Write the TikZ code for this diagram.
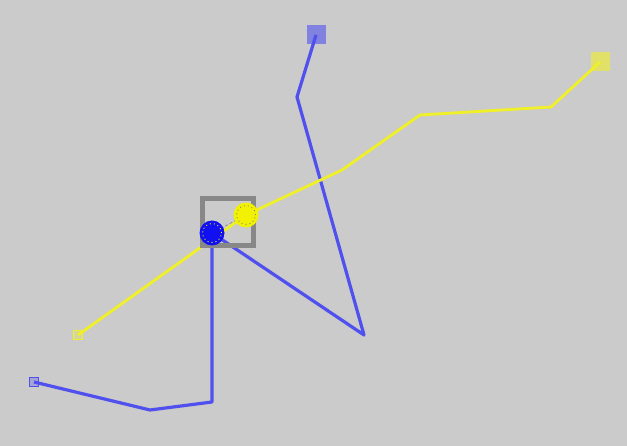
\documentclass[tikz,border=0pt]{standalone}
\usepackage{tikz}
\usetikzlibrary{positioning}
\definecolor{bggray}{HTML}{CBCBCB}
\definecolor{trackblue}{HTML}{5050EE}
\definecolor{trackyellow}{HTML}{F0F028}
\definecolor{boxgray}{HTML}{888888}
\definecolor{curblue}{HTML}{1010F0}
\definecolor{curyellow}{HTML}{F2F200}

\begin{document}
\begin{tikzpicture}[x=1pt, y=-1pt,
  bpath/.style={draw=trackblue, line width=3.2pt, line join=round},
  ypath/.style={draw=trackyellow, line width=2.8pt, line join=round},
  bigsq/.style={rectangle, minimum size=19pt, inner sep=0pt, fill opacity=0.6},
  smallsq/.style={rectangle, minimum size=9pt, inner sep=0pt, line width=1pt, fill opacity=0.3},
  cur/.style={circle, minimum size=25pt, inner sep=0pt},
  ring/.style={circle, minimum size=19pt, inner sep=0pt, line width=0.9pt, dash pattern=on 1pt off 3pt},
  focus/.style={rectangle, draw=boxgray, line width=5pt, inner sep=0pt, minimum width=51pt, minimum height=47pt}]
  \fill[bggray] (0,0) rectangle (627,446);
  % track points
  \foreach \n/\x/\y in {b0/316/35, b1/297/97, b2/364/335, bc/212/233, b3/212/402, b4/150/410, b5/34/382}
    \coordinate (\n) at (\x,\y);
  \foreach \n/\x/\y in {y0/600/62, y1/551/107, y2/420/115, y3/342/170, yc/246/215, y4/78/335}
    \coordinate (\n) at (\x,\y);
  \draw[bpath] (b0) -- (b1) -- (b2) -- (bc) -- (b3) -- (b4) -- (b5);
  \draw[ypath] (y0) -- (y1) -- (y2) -- (y3) -- (yc) -- (y4);
  \draw[boxgray, line width=0.6pt, densely dashed] (bc) -- (yc);
  % end markers
  \node[bigsq, fill=trackblue] (bstart) at (b0) {};
  \node[bigsq, fill=trackyellow] (ystart) at (y0) {};
  \node[smallsq, draw=trackblue, fill=trackblue] (bend) at (b5) {};
  \node[smallsq, draw=trackyellow, fill=trackyellow] (yend) at (y4) {};
  % current positions
  \node[focus] (frame) at (227.5,222.5) {};
  \node[cur, fill=curblue] (bnow) at (bc) {};
  \node[ring, draw=curyellow] at (bnow) {};
  \node[cur, fill=curyellow] (ynow) at (yc) {};
  \node[ring, draw=boxgray] at (ynow) {};
\end{tikzpicture}
\end{document}
